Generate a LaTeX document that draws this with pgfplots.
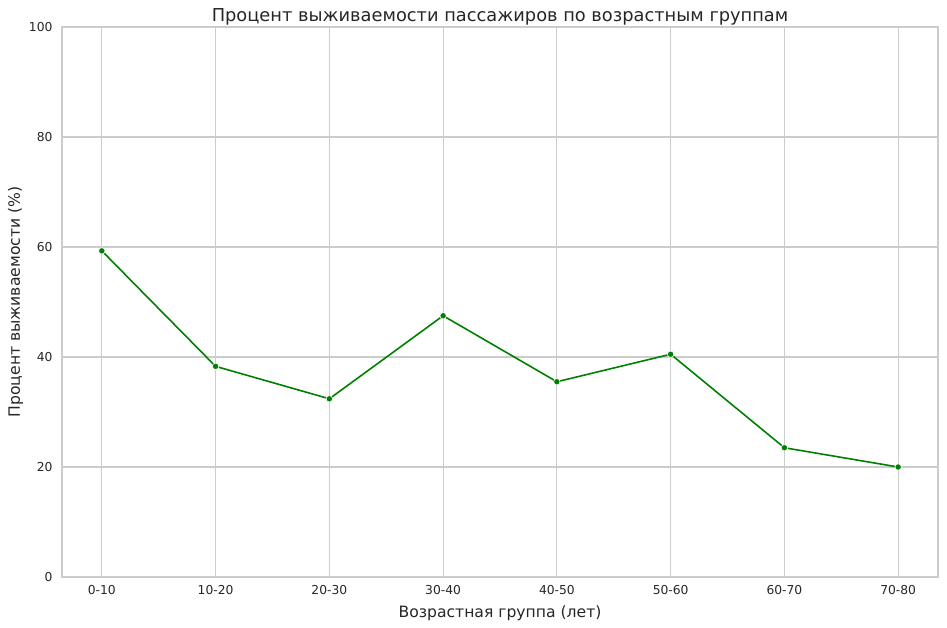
\documentclass[border=0pt]{standalone}
\usepackage{pgfplots}
\pgfplotsset{compat=1.18}
\usepackage{fontspec}
\setmainfont{DejaVu Sans}
\definecolor{gridgray}{HTML}{CCCCCC}
\definecolor{txt}{HTML}{262626}
\definecolor{mplgreen}{HTML}{008000}
\begin{document}
\begin{tikzpicture}
\useasboundingbox (-62pt,-51pt) rectangle (885pt,577pt);
\begin{axis}[
  scale only axis,
  width=876pt, height=550pt,
  xmin=-0.35, xmax=7.35,
  ymin=0, ymax=100,
  xtick={0,1,2,3,4,5,6,7},
  xticklabels={0-10,10-20,20-30,30-40,40-50,50-60,60-70,70-80},
  ytick={0,20,40,60,80,100},
  grid=major,
  major grid style={gridgray, line width=1.1pt},
  axis line style={gridgray, line width=1.1pt},
  tick style={draw=none},
  /pgf/number format/assume math mode=true,
  tick label style={font=\fontsize{12.3}{14}\selectfont, text=txt},
  xticklabel style={yshift=-5pt},
  yticklabel style={xshift=-6pt},
  title={Процент выживаемости пассажиров по возрастным группам},
  title style={font=\fontsize{17.8}{21}\selectfont, text=txt, yshift=-8pt},
  xlabel={Возрастная группа (лет)},
  ylabel={Процент выживаемости (\%)},
  label style={font=\fontsize{15.6}{18}\selectfont, text=txt},
  xlabel style={yshift=-4pt},
  ylabel style={yshift=-1pt},
]
\addplot[mplgreen, line width=1.6pt, mark=*, mark size=3.2pt,
  mark options={fill=mplgreen, draw=white, line width=0.6pt}]
  coordinates {(0,59.3) (1,38.3) (2,32.4) (3,47.5) (4,35.5) (5,40.5) (6,23.5) (7,20.0)};
\end{axis}
\end{tikzpicture}
\end{document}
